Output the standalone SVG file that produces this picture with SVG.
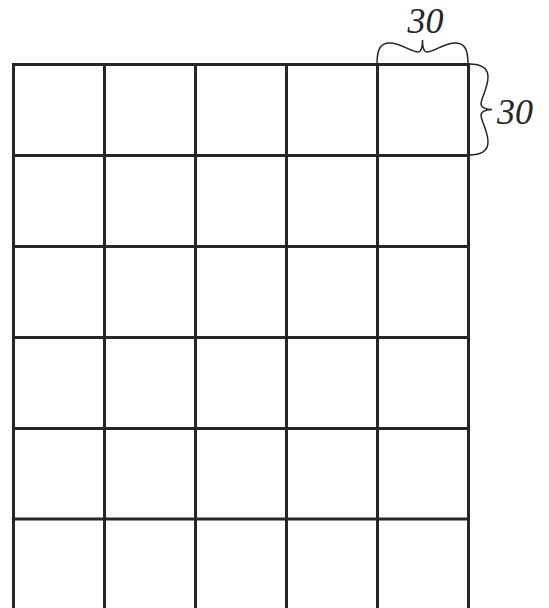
<svg xmlns="http://www.w3.org/2000/svg" width="549" height="608" viewBox="0 0 549 608">
<style>
.grid line{stroke:#262626;stroke-width:3;fill:none}
.brace{stroke:#262626;stroke-width:1.5;fill:none}
.lbl{font-family:"Liberation Serif",serif;font-style:italic;font-size:36px;fill:#262626}
</style>
<rect width="549" height="608" fill="#fff"/>
<g id="grid" class="grid">
<line x1="13.5" y1="63" x2="13.5" y2="608"/>
<line x1="104.5" y1="63" x2="104.5" y2="608"/>
<line x1="195.5" y1="63" x2="195.5" y2="608"/>
<line x1="286.5" y1="63" x2="286.5" y2="608"/>
<line x1="377.5" y1="63" x2="377.5" y2="608"/>
<line x1="468.5" y1="63" x2="468.5" y2="608"/>
<line x1="12" y1="64.5" x2="470" y2="64.5"/>
<line x1="12" y1="155.5" x2="470" y2="155.5"/>
<line x1="12" y1="246.5" x2="470" y2="246.5"/>
<line x1="12" y1="337.5" x2="470" y2="337.5"/>
<line x1="12" y1="428.5" x2="470" y2="428.5"/>
<line x1="12" y1="519" x2="470" y2="519"/>
<line x1="12" y1="610" x2="470" y2="610"/>
</g>
<g id="brace-top">
<path class="brace" d="M377,64 C377,48 381,43 390,43 C400,43 412,52 418,52 C421,52 422.5,47 422.5,40 C422.5,47 424,52 427,52 C433,52 445,43 455,43 C464,43 468,48 468,64"/>
<text class="lbl" x="425.5" y="33" text-anchor="middle">30</text>
</g>
<g id="brace-right">
<path class="brace" d="M469,64 C482,64 488,68 488,77 C488,88 481,98 481,104 C481,107 485,109.5 492,109.5 C485,109.5 481,112 481,115 C481,121 488,131 488,142 C488,151 482,155 469,155"/>
<text class="lbl" x="497" y="124">30</text>
</g>
</svg>
